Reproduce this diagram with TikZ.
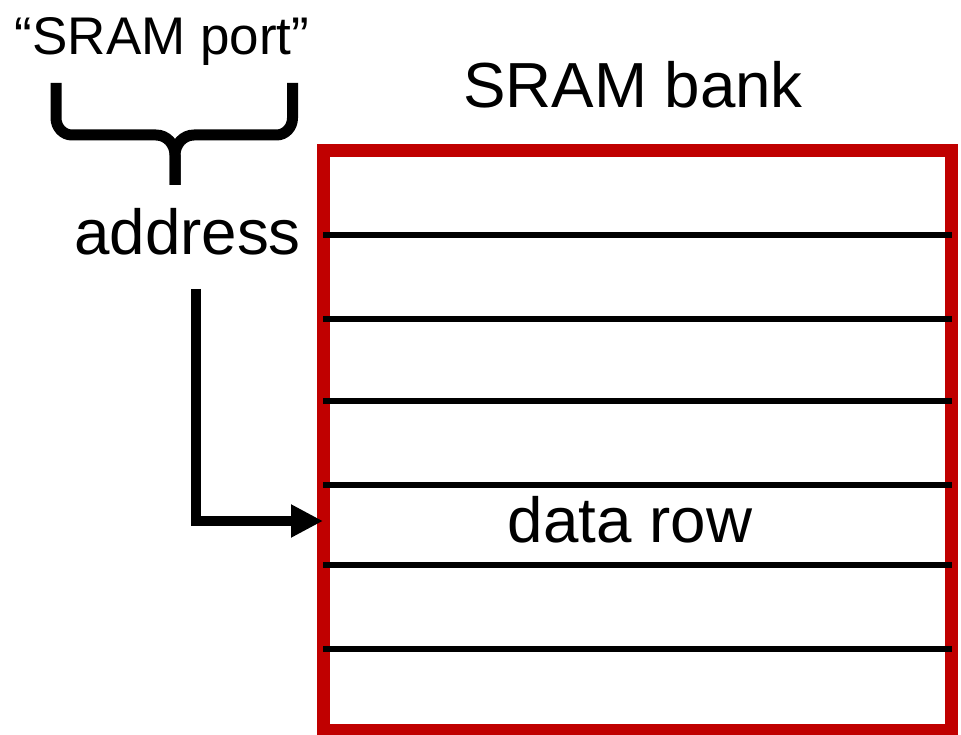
\documentclass[tikz,border=0pt]{standalone}
\usepackage{fontspec}
\setmainfont{Liberation Sans}
\usetikzlibrary{arrows.meta}
\definecolor{bankred}{RGB}{192,0,0}
\tikzset{
  bigtext/.style={font=\fontsize{63.7}{70}\selectfont, inner sep=0pt, anchor=base},
  smalltext/.style={font=\fontsize{53}{60}\selectfont, inner sep=0pt, anchor=base},
  bankbox/.style={draw=bankred, line width=13pt, minimum width=628.5pt, minimum height=579.5pt, inner sep=0pt, outer sep=0pt},
  rowline/.style={line width=6pt, black},
  bracestyle/.style={line width=11pt, black, line join=round},
  pointer/.style={line width=10pt, black, line join=miter, -{Triangle[length=32pt,width=31pt]}}
}
\begin{document}
\begin{tikzpicture}[x=1pt,y=1pt]
\useasboundingbox (0,0) rectangle (961,735);
\node[bankbox] (bank) at (637.25,294.25) {};
\foreach \yy/\nm in {500/r1,416/r2,334/r3,250/r4,170/r5,86/r6}{
  \coordinate (\nm l) at (323,\yy);
  \coordinate (\nm r) at (952,\yy);
  \draw[rowline] (\nm l) -- (\nm r);
}
\node[smalltext] (port) at (162,680) {“SRAM port”};
\node[bigtext] (addr) at (187.5,480) {address};
\node[bigtext] (banklabel) at (633,627) {SRAM bank};
\node[bigtext] (datarow) at (630,192) {data row};
% brace
\coordinate (bl) at (56,652);
\coordinate (br) at (292.5,652);
\coordinate (btip) at (175,550);
\draw[bracestyle] (bl) -- (56,617) to[out=-90,in=180] (72,600) -- (156,600) to[out=0,in=90] (175,580) -- (btip);
\draw[bracestyle] (br) -- (292.5,617) to[out=-90,in=0] (276.5,600) -- (194,600) to[out=180,in=90] (175,580) -- (btip);
% arrow
\coordinate (astart) at (196,446);
\coordinate (acorner) at (196,214);
\draw[pointer] (astart) -- (acorner) -- (bank.west |- acorner);
\end{tikzpicture}
\end{document}
